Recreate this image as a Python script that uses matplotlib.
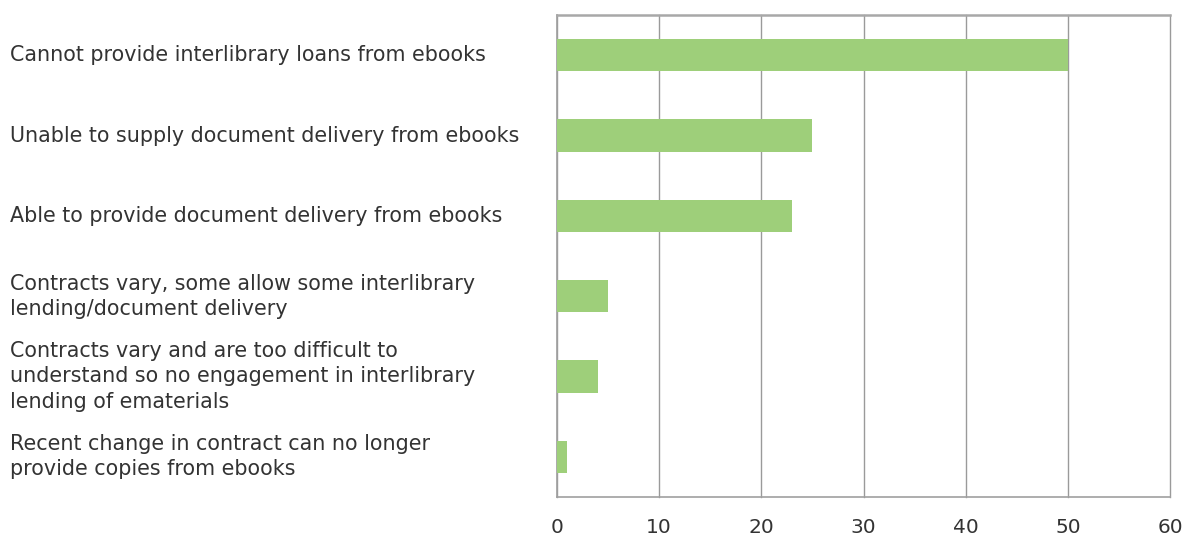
import matplotlib
matplotlib.use("Agg")
import matplotlib.pyplot as plt
from matplotlib.transforms import blended_transform_factory

categories = [
    "Cannot provide interlibrary loans from ebooks",
    "Unable to supply document delivery from ebooks",
    "Able to provide document delivery from ebooks",
    "Contracts vary, some allow some interlibrary\nlending/document delivery",
    "Contracts vary and are too difficult to\nunderstand so no engagement in interlibrary\nlending of ematerials",
    "Recent change in contract can no longer\nprovide copies from ebooks",
]
values = [50, 25, 23, 5, 4, 1]
xticks = [0, 10, 20, 30, 40, 50, 60]

plt.rcParams["font.family"] = ["DejaVu Sans"]

fig = plt.figure(figsize=(11.85, 5.41), dpi=100)
ax = fig.add_axes([557 / 1185, 1 - 497 / 541, (1170 - 557) / 1185, (497 - 15) / 541])

ypos = list(range(len(categories)))
ax.barh(ypos, values, height=0.4, color="#9ecf7a", zorder=3)

ax.set_xlim(0, 60)
ax.set_ylim(len(categories) - 0.5, -0.5)
ax.set_xticks(xticks)
ax.set_xticklabels([str(t) for t in xticks], fontsize=14.5, color="#333333")
ax.tick_params(axis="x", length=0, pad=15)
ax.set_yticks([])

ax.grid(axis="x", color="#9a9a9a", linewidth=1, zorder=1)
for line in ax.get_xgridlines():
    line.set_clip_on(False)
for side in ["left", "bottom"]:
    ax.spines[side].set_color("#a0a0a0")
    ax.spines[side].set_linewidth(1.2)
ax.spines["top"].set_color("#a8a8a8")
ax.spines["top"].set_linewidth(1.8)
ax.spines["right"].set_visible(False)

trans = blended_transform_factory(fig.transFigure, ax.transData)
for y, label in zip(ypos, categories):
    fig.text(10 / 1185, y, label, transform=trans, ha="left", va="center",
             fontsize=14.9, color="#333333", linespacing=1.32)

fig.savefig("out.png", dpi=100)
